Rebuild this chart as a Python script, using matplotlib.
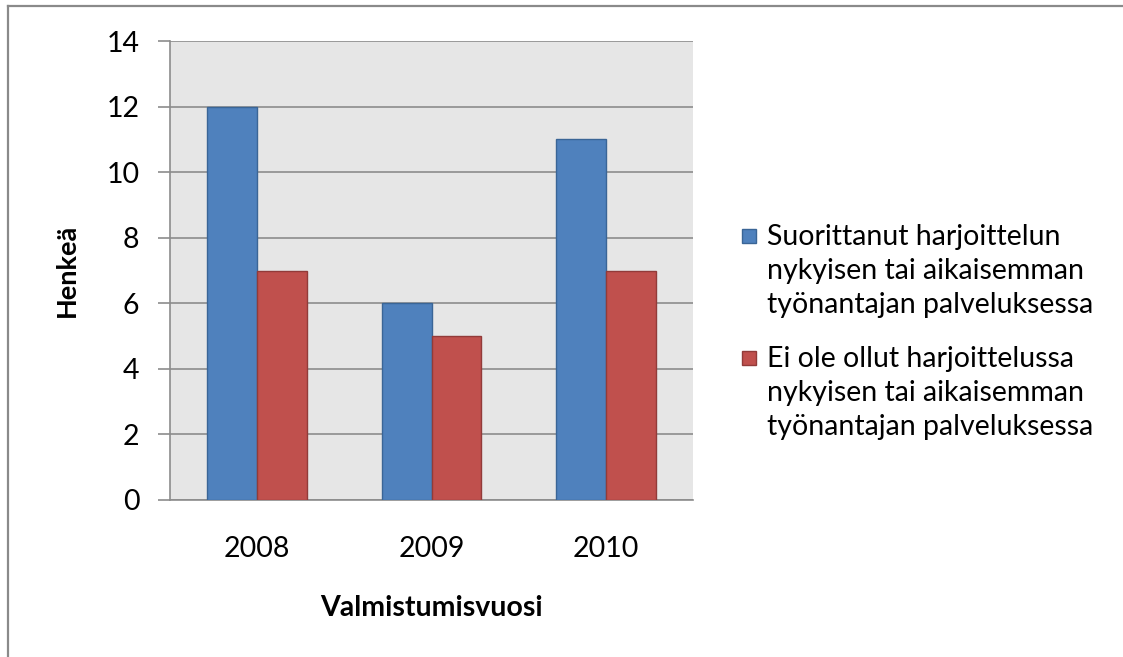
import matplotlib
matplotlib.use("Agg")
import matplotlib.pyplot as plt
import numpy as np
from matplotlib.patches import Rectangle
from matplotlib.lines import Line2D

plt.rcParams['font.family'] = ['Lato', 'DejaVu Sans']

years = ["2008", "2009", "2010"]
series_names = [
    "Suorittanut harjoittelun\nnykyisen tai aikaisemman\ntyönantajan palveluksessa",
    "Ei ole ollut harjoittelussa\nnykyisen tai aikaisemman\ntyönantajan palveluksessa",
]
suorittanut = [12, 6, 11]
ei_ole = [7, 5, 7]
yticks = [0, 2, 4, 6, 8, 10, 12, 14]

fill_colors = ["#4f81bd", "#c0504d"]
edge_colors = ["#3a6596", "#923b39"]
grid_col = "#8c8c8c"

W, H = 1123, 657
fig = plt.figure(figsize=(W / 100, H / 100), dpi=100)

# outer chart border (only top and left visible in reference)
fig.add_artist(Line2D([8 / W, 8 / W], [0, 1 - 6 / H], transform=fig.transFigure,
                      color="#8a8a8a", lw=1.6))
fig.add_artist(Line2D([8 / W, 1], [1 - 6 / H, 1 - 6 / H], transform=fig.transFigure,
                      color="#8a8a8a", lw=1.6))

ax = fig.add_axes([170 / W, 1 - 500 / H, 523 / W, 459 / H])
ax.set_facecolor("#e6e6e6")

x = np.arange(len(years))
bw = 0.286
ax.bar(x - bw / 2, suorittanut, bw, color=fill_colors[0], edgecolor=edge_colors[0],
       linewidth=1.0, zorder=3)
ax.bar(x + bw / 2, ei_ole, bw, color=fill_colors[1], edgecolor=edge_colors[1],
       linewidth=1.0, zorder=3)

ax.set_xlim(-0.5, len(years) - 0.5)
ax.set_ylim(0, 14)
ax.set_yticks(yticks)
ax.set_xticks(x)
ax.set_xticklabels(years)
ax.yaxis.grid(True, color=grid_col, lw=1.2, zorder=1)
ax.set_axisbelow(True)

for s in ["top", "right"]:
    ax.spines[s].set_visible(False)
ax.spines["left"].set_color(grid_col)
ax.spines["left"].set_linewidth(1.2)
ax.spines["bottom"].set_color(grid_col)
ax.spines["bottom"].set_linewidth(1.2)

ax.tick_params(axis="y", length=9, width=1.2, color=grid_col, pad=13, labelsize=20.5)
ax.tick_params(axis="x", length=0, pad=26, labelsize=20.5)

fig.text(67 / W, 1 - 270 / H, "Henkeä", rotation=90, ha="center", va="center",
         fontsize=19.5, fontweight="bold")
fig.text(431 / W, 1 - 608 / H, "Valmistumisvuosi", ha="center", va="center",
         fontsize=20.5, fontweight="bold")

# legend drawn by hand so the swatch lines up with the first text line
legend_tops = [236, 358]
for name, fc, ec, ytop in zip(series_names, fill_colors, edge_colors, legend_tops):
    fig.add_artist(Rectangle((742 / W, 1 - (ytop + 7) / H), 14 / W, 14 / H,
                             transform=fig.transFigure, facecolor=fc,
                             edgecolor=ec, lw=1.0))
    fig.text(767 / W, 1 - (ytop - 12) / H, name, ha="left", va="top",
             fontsize=20.5, linespacing=1.37)

fig.savefig("out.png", dpi=100)
